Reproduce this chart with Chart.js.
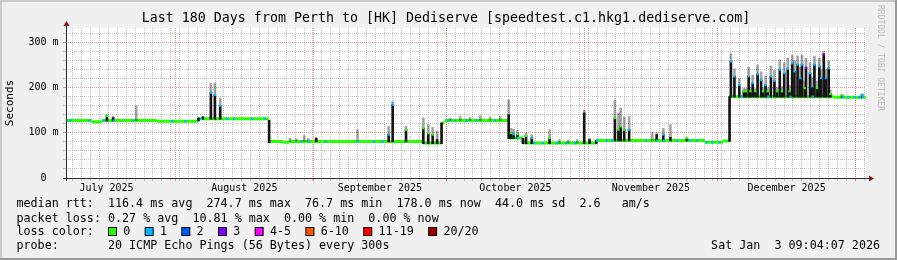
<!DOCTYPE html>
<html>
<head>
<meta charset="utf-8">
<script src="https://cdn.jsdelivr.net/npm/chart.js@4.4.1/dist/chart.umd.min.js"></script>
<style>
html, body { margin:0; padding:0; background:#f0f0f0; }
#wrap { position:relative; width:897px; height:260px; }
</style>
</head>
<body>
<div id="wrap"><canvas id="smoke" width="897" height="260"></canvas></div>
<script>
// x values are days since the graph start (Jul 7 2025 09:04), 180 days wide
let monthStarts = [24.62, 55.62, 85.62, 116.62, 146.62, 177.62];
let monthMids = [9.12, 40.12, 70.62, 101.12, 131.62, 162.12];
let monthLabels = ["July 2025", "August 2025", "September 2025", "October 2025", "November 2025", "December 2025"];
let minorStart = 1.55, minorStep = 2;

// median rtt (ms), piecewise level
let segStart = [0, 5.8, 8.0, 20.4, 29.6, 45.6, 48.8, 50.3, 80.3, 84.5, 85.2, 99.6, 102.8, 119.2, 143.7, 147.8, 149.2, 172.7];
let segValue = [127, 124.5, 127, 125.5, 131, 81, 79, 81, 77.4, 121.7, 127.5, 88.5, 77.4, 83, 79, 82, 180, 179];

// where the median tick shows 1 lost ping
let cyanDays = [0.9, 5.2, 8.55, 10.8, 15.1, 23.85, 26.8, 30.4, 36.3, 37.8, 41.85, 44.8,
    52.9, 54.7, 58.5, 65.6, 69.3, 71.3, 86, 87.5, 90.2, 92.3, 96.5, 101.7, 105.3, 107.3,
    110.5, 112.5, 114.5, 119.5, 121.7, 123, 130.5, 133, 134.5, 137.5, 140.5, 142, 144.2, 145.4, 147,
    152, 158, 163, 168, 174.8, 176, 177.5, 178.5, 179.3];

// smoke columns: base, dark top, grey top, loss of the median tick (-1 = none)
let spikeDay = [9.2, 10.6, 15.8, 29.8, 30.8, 32.6, 33.5, 34.7, 45.7,
    50.4, 51.8, 53.6, 54.5, 56.3, 65.6, 72.6, 73.5, 76.5, 80.4, 81.5, 82.5, 83.5, 84.5,
    86.4, 88.7, 90.9, 93.2, 95.4, 97.7, 99.6, 100.1, 100.7, 101.6, 102.8, 103.5, 104.8, 108.8, 111, 113, 115,
    116.6, 117.8, 119.3, 123.5, 124.3, 124.8, 125.6, 126.7, 131.9, 132.9, 134.4, 136, 139.7, 149.3,
    149.6, 150.4, 151.5, 152.5, 153.0, 153.6, 154.0, 154.5, 155.1, 155.6, 156.4, 156.8, 157.4, 157.9, 158.6,
    159.4, 160.0, 160.6, 161.1, 161.6, 162.4, 162.8, 163.4, 163.9, 164.6, 165.2, 165.6, 166.2, 166.5, 167.4,
    167.9, 168.4, 169.0, 169.5, 169.9, 170.5, 171.0, 171.6, 172.0, 174.6, 179.1];
let spikeBase = [127, 127, 127, 127, 131, 131, 131, 131, 79,
    81, 81, 81, 81, 81, 81, 81, 81, 81, 77, 77, 77, 77, 77,
    127.5, 127.5, 127.5, 127.5, 127.5, 127.5, 88, 88, 88, 88, 77, 77, 77, 77, 77, 77, 77,
    77, 77, 77, 83, 83, 83, 83, 83, 83, 83, 83, 83, 83, 82,
    180, 180, 180, 180, 180, 180, 180, 180, 180, 180, 180, 180, 180, 180, 180,
    180, 180, 180, 180, 180, 180, 180, 180, 180, 180, 180, 180, 180, 180, 180,
    180, 180, 180, 180, 180, 180, 180, 180, 180, 179, 179];
let spikeTop = [137, 134, 127, 132, 135, 189, 184, 160, 128,
    81, 81, 81, 81, 88, 81, 96, 162, 107, 110, 99, 96, 85, 122,
    127.5, 127.5, 127.5, 127.5, 127.5, 127.5, 140, 99.5, 97, 97, 88, 93.6, 88.5, 88.5, 77, 77, 77,
    144, 85, 83, 133, 107, 114, 107, 107, 83, 96, 96, 90, 88.5, 180,
    258, 225, 206, 192, 192, 225, 192, 210, 192, 230, 217, 192, 206, 192, 225,
    215, 192, 240, 192, 232, 242, 192, 254, 236, 251, 221, 251, 199, 244, 232,
    203, 251, 199, 247, 221, 274, 221, 243, 186, 183, 184];
let smokeTop = [140, 136, 160, 135, 137, 210, 210, 177, 128,
    88, 87, 94, 88, 90, 107, 114, 169, 115, 133, 118, 112, 103, 122,
    133, 136, 134, 138, 135, 137, 173, 110, 108, 105, 88, 100, 96, 107, 85, 84, 85,
    150, 88, 83, 173, 144, 155, 135, 136, 101, 100, 110, 118, 90, 180,
    275, 242, 220, 198, 198, 245, 200, 228, 198, 250, 235, 200, 225, 200, 248,
    238, 200, 262, 202, 255, 265, 205, 272, 260, 270, 245, 272, 215, 265, 255,
    222, 270, 215, 265, 240, 280, 240, 260, 195, 185, 186];
let spikeLoss = [0, -1, -1, -1, -1, 1, 1, 1, -1,
    -1, -1, -1, -1, -1, -1, 1, 1, 0, 0, 0, 0, -1, -1,
    -1, -1, -1, -1, -1, -1, -1, 0, 1, 0, -1, 0, 1, 0, -1, -1, -1,
    -1, -1, -1, 0, 0, 0, 0, 1, -1, -1, 1, -1, 0, -1,
    1, 1, 1, 0, 0, 1, 0, 1, 0, 1, 1, 0, 1, 0, 1,
    1, 0, 1, 0, 1, 1, 0, 1, 1, 1, 1, 1, 0, 3, 1,
    1, 1, 0, 1, 1, 3, 1, 1, 0, 0, 1];

let lossColors = ["#26ff00", "#00b8ff", "#0059ff", "#7e00ff", "#ff00ff", "#ff5500", "#ff0000", "#a00000"];
let lossLabels = ["0", "1", "2", "3", "4-5", "6-10", "11-19", "20/20"];

let titleText = "Last 180 Days from Perth to [HK] Dediserve [speedtest.c1.hkg1.dediserve.com]";
let legendLines = [
    "median rtt:  116.4 ms avg  274.7 ms max  76.7 ms min  178.0 ms now  44.0 ms sd  2.6   am/s",
    "packet loss: 0.27 % avg  10.81 % max  0.00 % min  0.00 % now",
    "loss color:",
    "probe:       20 ICMP Echo Pings (56 Bytes) every 300s"
];
let stampText = "Sat Jan  3 09:04:07 2026";

function segEnd(i) {
    return i + 1 < segStart.length ? segStart[i + 1] : 180;
}

function medianAt(day) {
    for (let i = 0; i < segStart.length; i++) {
        if (day >= segStart[i] && day < segEnd(i)) return segValue[i];
    }
    return segValue[segValue.length - 1];
}

let medianLine = [];
segStart.forEach((s, i) => {
    medianLine.push({x: s, y: segValue[i]});
    medianLine.push({x: segEnd(i), y: segValue[i]});
    medianLine.push({x: segEnd(i), y: null});
});

let darkBars = [], greyBars = [], ticks = [], tickColors = [];
spikeDay.forEach((d, i) => {
    if (spikeTop[i] > spikeBase[i]) darkBars.push({x: d, y: [spikeBase[i] - 1, spikeTop[i]]});
    if (smokeTop[i] > spikeTop[i]) greyBars.push({x: d, y: [spikeTop[i], smokeTop[i]]});
    if (spikeLoss[i] >= 0) {
        ticks.push({x: d, y: spikeTop[i]});
        tickColors.push(lossColors[spikeLoss[i]]);
    }
});
cyanDays.forEach((d) => {
    ticks.push({x: d, y: medianAt(d)});
    tickColors.push(lossColors[1]);
});

const mono = '"DejaVu Sans Mono", monospace';

const rrdLook = {
    id: 'rrdLook',
    beforeDraw(chart) {
        let c = chart.ctx, a = chart.chartArea;
        c.save();
        c.fillStyle = '#f0f0f0';
        c.fillRect(0, 0, 897, 260);
        c.fillStyle = '#cbcbcb';
        c.fillRect(0, 0, 897, 2);
        c.fillRect(0, 0, 2, 260);
        c.fillStyle = '#999999';
        c.fillRect(0, 258, 897, 2);
        c.fillRect(895, 0, 2, 260);
        c.fillStyle = '#ffffff';
        c.fillRect(a.left, a.top, a.right - a.left, a.bottom - a.top);
        c.restore();
    },
    afterDatasetsDraw(chart) {
        let c = chart.ctx, a = chart.chartArea;
        c.save();
        c.strokeStyle = '#2a2a2a';
        c.lineWidth = 1;
        c.beginPath();
        c.moveTo(a.left + 0.5, a.top - 4);
        c.lineTo(a.left + 0.5, a.bottom + 3);
        c.moveTo(a.left - 3, a.bottom + 0.5);
        c.lineTo(a.right + 3, a.bottom + 0.5);
        c.stroke();
        c.fillStyle = '#8c1010';
        c.beginPath();
        c.moveTo(a.left + 0.5, a.top - 7);
        c.lineTo(a.left - 2.5, a.top - 2);
        c.lineTo(a.left + 3.5, a.top - 2);
        c.fill();
        c.beginPath();
        c.moveTo(a.right + 8, a.bottom + 0.5);
        c.lineTo(a.right + 3, a.bottom - 2.5);
        c.lineTo(a.right + 3, a.bottom + 3.5);
        c.fill();
        c.restore();
    },
    afterDraw(chart) {
        let c = chart.ctx;
        c.save();
        c.fillStyle = '#000';
        c.textBaseline = 'middle';
        c.font = '13.3px ' + mono;
        c.textAlign = 'center';
        c.fillText(titleText, 446, 19);

        c.font = '11.7px ' + mono;
        c.textAlign = 'left';
        let rows = [204, 218.5, 232, 246];
        legendLines.forEach((t, i) => c.fillText(t, 16.5, rows[i]));

        let cw = 7.06;
        let tx = 123.3;
        lossLabels.forEach((lab, i) => {
            c.fillStyle = lossColors[i];
            c.fillRect(108.5 + (tx - 123.3), 227.5, 8, 8);
            c.strokeStyle = '#000';
            c.lineWidth = 1;
            c.strokeRect(108.5 + (tx - 123.3), 227.5, 8, 8);
            c.fillStyle = '#000';
            c.fillText(lab, tx, rows[2]);
            tx += lab.length * cw + 29.6;
        });

        c.textAlign = 'right';
        c.fillText(stampText, 880, rows[3]);

        c.translate(880, 5);
        c.rotate(Math.PI / 2);
        c.textAlign = 'left';
        c.fillStyle = '#b8b8b8';
        c.font = '8px ' + mono;
        c.fillText("RRDTOOL / TOBI OETIKER", 0, 0);
        c.restore();
    }
};

let ctx = document.getElementById('smoke').getContext('2d');
let smokeChart = new Chart(ctx, {
    type: 'line',
    data: {
        datasets: [
            {
                label: 'median tick',
                data: ticks,
                showLine: false,
                pointStyle: 'rect',
                pointRadius: 1.6,
                pointBorderWidth: 0,
                pointBackgroundColor: tickColors,
                order: 0
            },
            {
                type: 'bar',
                label: 'smoke dark',
                data: darkBars,
                backgroundColor: '#141414',
                barThickness: 2,
                grouped: false,
                order: 1
            },
            {
                type: 'bar',
                label: 'smoke light',
                data: greyBars,
                backgroundColor: 'rgba(0,0,0,0.35)',
                barThickness: 2,
                grouped: false,
                order: 2
            },
            {
                label: 'median',
                data: medianLine,
                borderColor: lossColors[0],
                borderWidth: 3,
                pointRadius: 0,
                spanGaps: false,
                order: 3
            }
        ]
    },
    options: {
        responsive: false,
        animation: false,
        layout: { padding: { top: 28, right: 31, left: 0, bottom: 0 } },
        plugins: {
            legend: { display: false },
            tooltip: { enabled: false },
            title: { display: false }
        },
        scales: {
            x: {
                type: 'linear',
                min: 0,
                max: 180,
                offset: false,
                afterBuildTicks: (scale) => {
                    let t = [];
                    for (let v = minorStart; v < 180; v += minorStep) t.push({value: v});
                    monthStarts.forEach((v) => t.push({value: v, major: true}));
                    scale.ticks = t;
                },
                afterFit: (scale) => { scale.height = 0; },
                ticks: { display: false },
                grid: {
                    offset: false,
                    lineWidth: 1,
                    drawTicks: true,
                    tickLength: 3,
                    color: (c) => c.tick && c.tick.major ? 'rgba(224,80,80,0.6)' : 'rgba(143,143,143,0.5)'
                },
                border: { display: false, dash: [1, 1] }
            },
            xl: {
                type: 'linear',
                position: 'bottom',
                weight: 1,
                min: 0,
                max: 180,
                offset: false,
                afterBuildTicks: (scale) => {
                    scale.ticks = monthMids.map((v) => ({value: v}));
                },
                afterFit: (scale) => { scale.height = 82; },
                ticks: {
                    autoSkip: false,
                    maxRotation: 0,
                    padding: 4,
                    color: '#000',
                    font: { family: mono, size: 10 },
                    callback: (v, i) => monthLabels[i]
                },
                grid: { display: false, drawTicks: false, offset: false },
                border: { display: false }
            },
            y: {
                type: 'linear',
                min: 0,
                max: 332,
                afterFit: (scale) => { scale.width = 66; },
                ticks: {
                    stepSize: 20,
                    autoSkip: false,
                    includeBounds: false,
                    padding: 4.5,
                    color: '#000',
                    font: { family: mono, size: 10 },
                    callback: (v) => v % 100 !== 0 ? '' : (v === 0 ? '0  ' : v + ' m')
                },
                grid: {
                    lineWidth: 1,
                    drawTicks: true,
                    tickLength: 3,
                    color: (c) => c.tick && c.tick.value % 100 === 0 ? 'rgba(224,80,80,0.6)' : 'rgba(143,143,143,0.5)'
                },
                border: { display: false, dash: [1, 1] },
                title: {
                    display: true,
                    text: 'Seconds',
                    color: '#000',
                    font: { family: mono, size: 11 }
                }
            }
        }
    },
    plugins: [rrdLook]
});
</script>
</body>
</html>
